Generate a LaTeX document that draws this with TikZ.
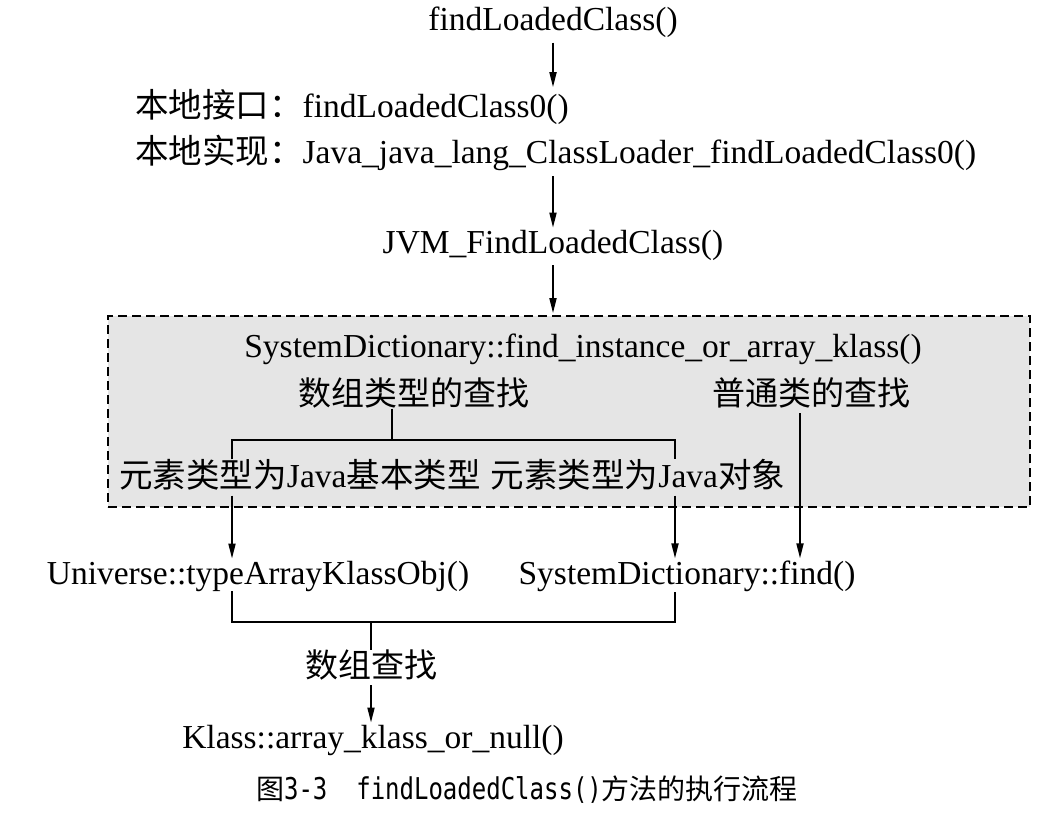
\documentclass[tikz,border=0pt]{standalone}
\usepackage{fontspec}
\setmainfont{Liberation Serif}
\newfontfamily\cjk{Noto Sans CJK SC}
\newfontfamily\capmono[FakeStretch=0.8]{DejaVu Sans Mono}
\usetikzlibrary{arrows.meta}

\tikzset{
  txt/.style={inner sep=0pt, font=\fontsize{33.5}{36}\selectfont},
  link/.style={-{Triangle[length=15pt,width=7pt]}, line width=1.8pt, shorten >=2pt, shorten <=5pt},
  brace/.style={line width=2.2pt},
  panel/.style={draw, dashed, dash pattern=on 9pt off 5pt, line width=1.8pt, fill=black!10, inner sep=0pt}
}

\begin{document}
\begin{tikzpicture}[x=1pt,y=-1pt]
\useasboundingbox (0,0) rectangle (1040,815);
% call chain down to the JVM
\node[txt] (top) at (553,22) {findLoadedClass()};
\node[txt, anchor=west] (natif) at (135,107) {{\cjk 本地接口：}findLoadedClass0()};
\node[txt, anchor=west] (impl) at (135,153) {{\cjk 本地实现：}Java\_java\_lang\_ClassLoader\_findLoadedClass0()};
\node[txt] (jvm) at (553,245) {JVM\_FindLoadedClass()};
\draw[link] (top.south) -- (top.south |- natif.north);
\draw[link] (impl.south -| top) -- (jvm.north -| top);

% dictionary lookup
\node[panel, minimum width=922pt, minimum height=191pt] (sd) at (569,411.5) {};
\draw[link] (jvm.south -| top) -- (sd.north -| top);
\node[txt] (fia) at (583,349) {SystemDictionary::find\_instance\_or\_array\_klass()};
\node[txt, font=\fontsize{33}{36}\cjk] (arr) at (414,393) {数组类型的查找};
\node[txt, font=\fontsize{33}{36}\cjk] (norm) at (811,393) {普通类的查找};
\node[txt] (prim) at (300,475) {{\cjk 元素类型为}Java{\cjk 基本类型}};
\node[txt] (objt) at (638,475) {{\cjk 元素类型为}Java{\cjk 对象}};
\coordinate (brk) at (392,440);
\coordinate (pl) at (232,440);
\coordinate (ol) at (675,440);
\coordinate (nl) at (800,440);
\draw[brace] (arr.south -| brk) -- (brk);
\draw[brace] (prim.north -| pl) -- (pl) -- (ol) -- (objt.north -| ol);

% results
\node[txt] (uni) at (258,576) {Universe::typeArrayKlassObj()};
\node[txt] (sdf) at (687,576) {SystemDictionary::find()};
\draw[link] (prim.south -| pl) -- (uni.north -| pl);
\draw[link] (objt.south -| ol) -- (sdf.north -| ol);
\draw[link] (norm.south -| nl) -- (sdf.north -| nl);

\coordinate (jl) at (371,622);
\node[txt, font=\fontsize{33}{36}\cjk] (arrq) at (371,665) {数组查找};
\node[txt] (kls) at (373,740) {Klass::array\_klass\_or\_null()};
\draw[brace] (uni.south -| pl) -- (pl |- jl) -- (ol |- jl) -- (sdf.south -| ol);
\draw[brace] (jl) -- (arrq.north);
\draw[link] (arrq.south) -- (kls.north -| arrq);

\node[inner sep=0pt] (cap) at (527,790) {{\fontsize{28}{30}\cjk 图}{\fontsize{30}{30}\capmono 3-3\ \ findLoadedClass()}{\fontsize{28}{30}\cjk 方法的执行流程}};
\end{tikzpicture}
\end{document}
